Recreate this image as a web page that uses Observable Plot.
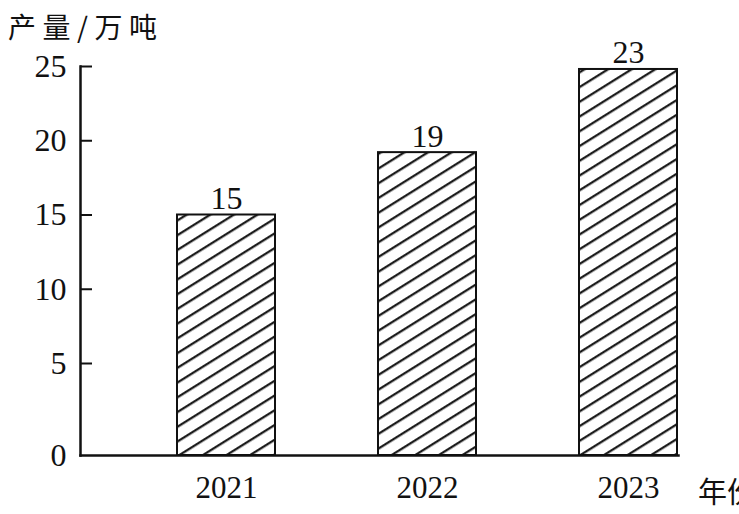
<!DOCTYPE html>
<html>
<head>
<meta charset="utf-8">
<script src="https://cdn.jsdelivr.net/npm/d3@7"></script>
<script src="https://cdn.jsdelivr.net/npm/@observablehq/plot@0.6"></script>
<style>
  html, body { margin: 0; padding: 0; background: #fff; }
  #chart { position: relative; width: 739px; height: 514px; }
</style>
</head>
<body>
<div id="chart"></div>
<script>
// Data
const years = ["2021", "2022", "2023"];
const barHeights = [15, 19.2, 24.8];      // heights as drawn
const valueLabels = ["15", "19", "23"];   // numbers printed above the bars
const yTicks = [0, 5, 10, 15, 20, 25];
const yTitle = "产量/万吨";
const xTitle = "年份";

const data = years.map((year, i) => ({year, h: barHeights[i], label: valueLabels[i]}));

const serif = "'Liberation Serif', 'DejaVu Serif', serif";
const cjk = "'Noto Sans CJK SC', sans-serif";

const plot = Plot.plot({
  width: 739,
  height: 514,
  marginLeft: 80,
  marginRight: 61,
  marginTop: 66,
  marginBottom: 59,
  style: {background: "#fff", color: "#111", fontFamily: serif},
  x: {domain: years, range: [176, 678], paddingInner: 0.512, paddingOuter: 0, align: 0.5},
  y: {type: "linear", domain: [0, 5, 25], range: [455, 363, 66]},
  marks: [
    Plot.barY(data, {x: "year", y: "h", fill: "url(#hatch)", stroke: "#111", strokeWidth: 2}),
    Plot.text(data, {x: "year", y: "h", text: "label", dy: -6, lineAnchor: "bottom", fontSize: 32, fontFamily: serif, fill: "#111"}),
    Plot.axisY({ticks: yTicks.filter(d => d > 0), tickSize: -12, tickFormat: () => "", strokeWidth: 2, label: null}),
    Plot.axisY({ticks: yTicks, tickSize: 0, tickPadding: 14, fontSize: 32, fontFamily: serif, label: null}),
    Plot.axisX({tickSize: 0, tickPadding: 20, fontSize: 31, fontFamily: serif, label: null}),
    Plot.frame({anchor: "left", strokeWidth: 2.5, stroke: "#111"}),
    Plot.frame({anchor: "bottom", strokeWidth: 2.5, stroke: "#111"})
  ]
});

const svg = d3.select(plot);
const defs = svg.insert("defs", ":first-child");
const pat = defs.append("pattern")
  .attr("id", "hatch")
  .attr("patternUnits", "userSpaceOnUse")
  .attr("width", 20)
  .attr("height", 12.5)
  .attr("patternTransform", "rotate(-32)");
pat.append("rect").attr("width", 20).attr("height", 12.5).attr("fill", "#fff");
pat.append("line").attr("x1", 0).attr("x2", 20).attr("y1", 6).attr("y2", 6)
  .attr("stroke", "#111").attr("stroke-width", 2.2);

svg.append("text")
  .attr("x", 8).attr("y", 38)
  .attr("text-anchor", "start")
  .attr("font-family", cjk).attr("font-size", 28)
  .attr("letter-spacing", 6.5)
  .attr("fill", "#111")
  .text(yTitle);

svg.append("text")
  .attr("x", 698).attr("y", 503)
  .attr("text-anchor", "start")
  .attr("font-family", cjk).attr("font-size", 29)
  .attr("fill", "#111")
  .text(xTitle);

document.getElementById("chart").appendChild(plot);
</script>
</body>
</html>
